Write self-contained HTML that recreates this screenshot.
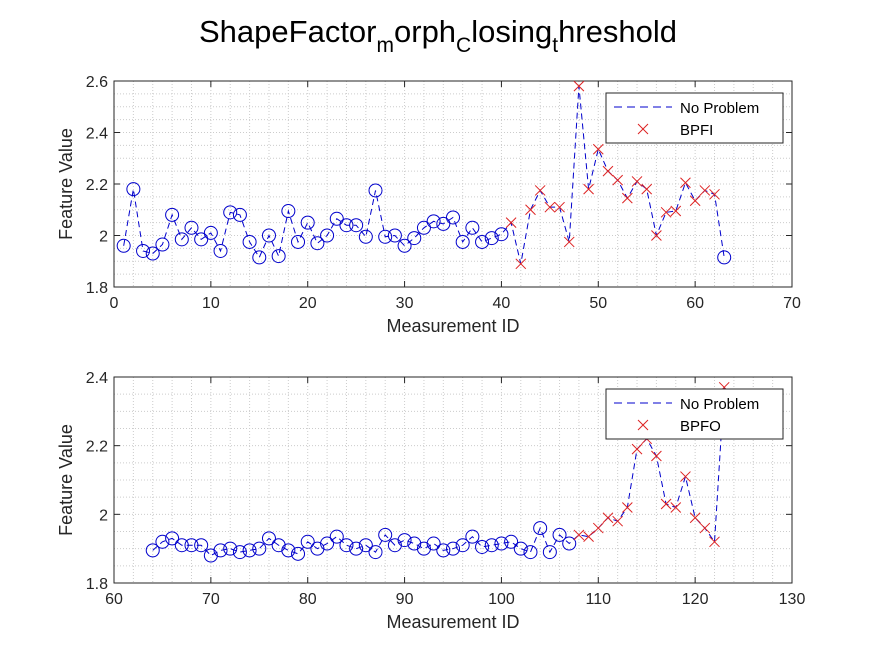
<!DOCTYPE html>
<html><head><meta charset="utf-8"><style>
body{margin:0;background:#fff;}
svg{display:block;font-family:"Liberation Sans",Arial,sans-serif;}
</style></head><body>
<svg id="c" width="875" height="656">
<rect width="875" height="656" fill="#fff"/>
<text x="438" y="42" text-anchor="middle" font-size="31" fill="#000">ShapeFactor<tspan font-size="21" dy="10">m</tspan><tspan dy="-10">orph</tspan><tspan font-size="21" dy="10">C</tspan><tspan dy="-10">losing</tspan><tspan font-size="21" dy="10">t</tspan><tspan dy="-10">hreshold</tspan></text>
</svg>
<script>
const topX = [];for(let i=1;i<=63;i++)topX.push(i);
const topY = [1.96,2.18,1.94,1.93,1.965,2.08,1.985,2.03,1.985,2.01,1.94,2.09,2.08,1.975,1.915,2.0,1.92,2.095,1.975,2.05,1.97,2.0,2.065,2.04,2.04,1.995,2.175,1.995,2.0,1.96,1.99,2.03,2.055,2.045,2.07,1.975,2.03,1.975,1.99,2.005,2.05,1.89,2.1,2.175,2.11,2.11,1.975,2.58,2.18,2.335,2.25,2.215,2.145,2.21,2.18,2.0,2.09,2.095,2.205,2.135,2.175,2.16,1.915];
const topFault = [41,42,43,44,45,46,47,48,49,50,51,52,53,54,55,56,57,58,59,60,61,62];
const botX = [];for(let i=64;i<=123;i++)botX.push(i);
const botY = [1.895,1.92,1.93,1.91,1.91,1.91,1.88,1.895,1.9,1.89,1.895,1.9,1.93,1.91,1.895,1.885,1.92,1.9,1.915,1.935,1.91,1.9,1.91,1.89,1.94,1.91,1.925,1.915,1.9,1.915,1.895,1.9,1.91,1.935,1.905,1.91,1.915,1.92,1.9,1.89,1.96,1.89,1.94,1.915,1.94,1.935,1.96,1.99,1.98,2.02,2.19,2.22,2.17,2.03,2.02,2.11,1.99,1.96,1.92,2.37];
const botFault = [108,109,110,111,112,113,114,115,116,117,118,119,120,121,122,123];
const topXTicks=[0,10,20,30,40,50,60,70];
const topYTicks=[1.8,2,2.2,2.4,2.6];
const botXTicks=[60,70,80,90,100,110,120,130];
const botYTicks=[1.8,2,2.2,2.4];
const NS='http://www.w3.org/2000/svg';
const svg=document.getElementById('c');
function mk(t,a,p){const e=document.createElementNS(NS,t);for(const k in a)e.setAttribute(k,a[k]);(p||svg).appendChild(e);return e;}
function panel(id,top,xmin,xmax,ymin,ymax,xt,yt,xs,ys,fault,label){
  const L=114,R=792,T=top,B=top+206;
  const g=mk('g',{});
  
  
  const sx=v=>L+(v-xmin)/(xmax-xmin)*(R-L);
  const sy=v=>B-(v-ymin)/(ymax-ymin)*(B-T);
  for(let v=xmin;v<=xmax+1e-9;v+=2){mk('line',{x1:sx(v),x2:sx(v),y1:T,y2:B,stroke:'#cccccc','stroke-width':1,'stroke-dasharray':'1,2'},g);}
  for(let v=ymin;v<=ymax+1e-9;v+=0.05){mk('line',{x1:L,x2:R,y1:sy(v),y2:sy(v),stroke:'#cccccc','stroke-width':1,'stroke-dasharray':'1,2'},g);}
  mk('rect',{x:L,y:T,width:R-L,height:B-T,fill:'none',stroke:'#262626','stroke-width':1},g);
  xt.forEach(v=>{mk('line',{x1:sx(v),x2:sx(v),y1:B,y2:B-6,stroke:'#262626'},g);mk('line',{x1:sx(v),x2:sx(v),y1:T,y2:T+6,stroke:'#262626'},g);
    const t=mk('text',{x:sx(v),y:B+21,'text-anchor':'middle','font-size':16,fill:'#262626'},g);t.textContent=v;
    });
  yt.forEach(v=>{mk('line',{x1:L,x2:L+6,y1:sy(v),y2:sy(v),stroke:'#262626'},g);mk('line',{x1:R,x2:R-6,y1:sy(v),y2:sy(v),stroke:'#262626'},g);
    const t=mk('text',{x:L-6,y:sy(v)+6,'text-anchor':'end','font-size':16,fill:'#262626'},g);t.textContent=(v===2?'2':v.toFixed(1));
    });
  const xl=mk('text',{x:(L+R)/2,y:B+45,'text-anchor':'middle','font-size':18,fill:'#262626'},g);xl.textContent='Measurement ID';
  
  const yl=mk('text',{x:0,y:0,'text-anchor':'middle','font-size':18,fill:'#262626',transform:`translate(72,${(T+B)/2}) rotate(-90)`},g);yl.textContent='Feature Value';
  
  const pts=xs.map((x,i)=>sx(x)+','+sy(ys[i])).join(' ');
  const pl=mk('polyline',{points:pts,fill:'none',stroke:'#0000cc','stroke-width':1,'stroke-dasharray':'6,4'},g);
  
  xs.forEach((x,i)=>{const cx=sx(x),cy=sy(ys[i]);
    if(fault.includes(x)){const p=mk('path',{d:`M${cx-5},${cy-5}L${cx+5},${cy+5}M${cx-5},${cy+5}L${cx+5},${cy-5}`,stroke:'#dd2222','stroke-width':1},g);
      }
    else{const c=mk('circle',{cx:cx,cy:cy,r:6.5,fill:'none',stroke:'#0000cc','stroke-width':1},g);
      }});
  const lg=mk('g',{},g);
  
  const ly=T+12;
  mk('rect',{x:606,y:ly,width:177,height:50,fill:'#fff',stroke:'#262626'},lg);
  mk('line',{x1:614,x2:672,y1:ly+14,y2:ly+14,stroke:'#0000cc','stroke-dasharray':'8,5'},lg);
  const t1=mk('text',{x:680,y:ly+20,'font-size':15,fill:'#000'},lg);t1.textContent='No Problem';
  mk('path',{d:`M${643-5},${ly+36-5}L${643+5},${ly+36+5}M${643-5},${ly+36+5}L${643+5},${ly+36-5}`,stroke:'#dd2222'},lg);
  const t2=mk('text',{x:680,y:ly+42,'font-size':15,fill:'#000'},lg);t2.textContent=label;
}
panel('top',81,0,70,1.8,2.6,topXTicks,topYTicks,topX,topY,topFault,'BPFI');
panel('bottom',377,60,130,1.8,2.4,botXTicks,botYTicks,botX,botY,botFault,'BPFO');
</script>
</body></html>
